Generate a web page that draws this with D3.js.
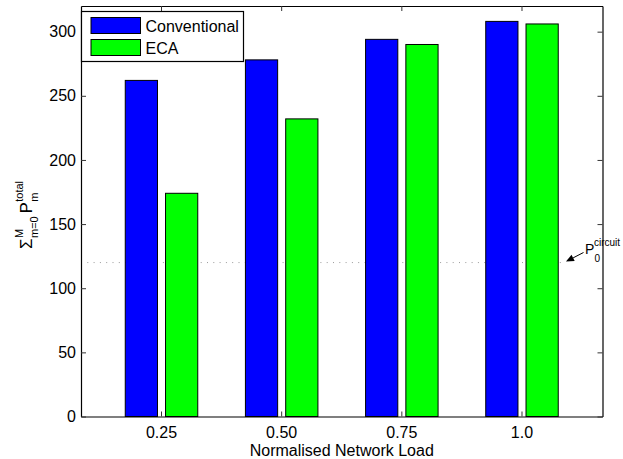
<!DOCTYPE html>
<html>
<head>
<meta charset="utf-8">
<script src="https://cdn.jsdelivr.net/npm/d3@7"></script>
<style>
  html, body { margin: 0; padding: 0; background: #fff; }
  svg { display: block; font-family: "Liberation Sans", Arial, Helvetica, sans-serif; }
</style>
</head>
<body>
<svg id="chart" width="623" height="459"></svg>
<script>
// Total power per network load, conventional vs ECA
const loads = ["0.25", "0.50", "0.75", "1.0"];
const seriesNames = ["Conventional", "ECA"];
const conventional = [262, 278, 294, 308];
const eca = [174, 232, 290, 306];
const seriesColors = ["#0000ff", "#00ff00"];
const yTicks = [0, 50, 100, 150, 200, 250, 300];
const circuitPower = 120;

const W = 623, H = 459;
const plot = { left: 81, right: 602.5, top: 6, bottom: 416.5 };

const svg = d3.select("#chart");

const x = d3.scaleBand()
  .domain(loads)
  .range([plot.left, plot.right])
  .paddingInner(0)
  .paddingOuter(0.17);

const step = x.step();
const xInner = d3.scaleBand()
  .domain(seriesNames)
  .range([step / 2 - 36.25, step / 2 + 36.25])
  .paddingInner(0.2);

const y = d3.scaleLinear().domain([0, 320]).range([plot.bottom, plot.top]);

const rows = loads.map((l, i) => ({ load: l, values: [conventional[i], eca[i]] }));

// reference level for the circuit-switched power
const yRef = y(circuitPower);
svg.append("line")
  .attr("x1", plot.left).attr("x2", 566)
  .attr("y1", yRef).attr("y2", yRef)
  .attr("stroke", "#9a9a9a")
  .attr("stroke-width", 1)
  .attr("stroke-dasharray", "1,5.3");

// grouped bars
const groups = svg.append("g").selectAll("g")
  .data(rows).join("g")
  .attr("transform", d => `translate(${x(d.load)},0)`);

groups.selectAll("rect")
  .data(d => d.values.map((v, j) => ({ name: seriesNames[j], value: v, color: seriesColors[j] })))
  .join("rect")
  .attr("x", d => xInner(d.name))
  .attr("width", xInner.bandwidth())
  .attr("y", d => y(d.value))
  .attr("height", d => y(0) - y(d.value))
  .attr("fill", d => d.color)
  .attr("stroke", "#000")
  .attr("stroke-width", 1);

// axes (ticks pointing inward, box on all four sides)
function styleAxis(g) {
  g.attr("font-family", null).attr("font-size", null);
  g.selectAll("path, line").attr("stroke", "#000").attr("stroke-width", 1.2);
  g.selectAll(".tick line").attr("stroke", "#333").attr("stroke-width", 1);
  g.selectAll("text").attr("fill", "#000").style("font-size", "16px");
}

svg.append("g")
  .attr("transform", `translate(0,${plot.bottom})`)
  .call(d3.axisBottom(x).tickSize(-5).tickSizeOuter(0).tickPadding(10.4))
  .call(styleAxis);

svg.append("g")
  .attr("transform", `translate(0,${plot.top})`)
  .call(d3.axisTop(x).tickSize(-5).tickSizeOuter(0).tickFormat(""))
  .call(styleAxis);

svg.append("g")
  .attr("transform", `translate(${plot.left},0)`)
  .call(d3.axisLeft(y).tickValues(yTicks).tickSize(-5).tickSizeOuter(0).tickPadding(5))
  .call(styleAxis);

svg.append("g")
  .attr("transform", `translate(${plot.right},0)`)
  .call(d3.axisRight(y).tickValues(yTicks).tickSize(-5).tickSizeOuter(0).tickFormat(""))
  .call(styleAxis);

// x axis title
svg.append("text")
  .attr("x", (plot.left + plot.right) / 2)
  .attr("y", 455.7)
  .attr("text-anchor", "middle")
  .style("font-size", "16px")
  .text("Normalised Network Load");

// y axis title: Σ_{m=0}^{M} P_m^{total}, built piece by piece
const yt = svg.append("g").attr("transform", "translate(31.7,0) rotate(-90)");
let u = -249;
function piece(str, size, shift) {
  const t = yt.append("text")
    .attr("x", u).attr("y", shift)
    .style("font-size", size + "px")
    .text(str);
  return t.node().getComputedTextLength();
}
let w = piece("\u03A3", 17, 0);
u += w + 0.5;
let w1 = piece("M", 11, -9);
let w2 = piece("m=0", 11, 6);
u += Math.max(w1, w2) + 3;
w = piece("P", 16.5, 0);
u += w + 0.5;
w1 = piece("total", 11, -9);
w2 = piece("m", 11, 6);

// legend
const leg = svg.append("g");
leg.append("rect")
  .attr("x", 81.5).attr("y", 11.5)
  .attr("width", 162).attr("height", 50)
  .attr("fill", "#fff").attr("stroke", "#000").attr("stroke-width", 1.2);
seriesNames.forEach((name, i) => {
  const cy = 25.5 + i * 22;
  leg.append("rect")
    .attr("x", 91).attr("y", cy - 8)
    .attr("width", 49.5).attr("height", 16)
    .attr("fill", seriesColors[i]).attr("stroke", "#000").attr("stroke-width", 1);
  leg.append("text")
    .attr("x", 145.5).attr("y", cy + 6)
    .style("font-size", "16px")
    .text(name);
});

// annotation arrow pointing at the reference level
const tip = [566, yRef - 1];
const tail = [583.5, 252.5];
const ang = Math.atan2(tip[1] - tail[1], tip[0] - tail[0]);
const hl = 8, hw = 3.5;
const base = [tip[0] - hl * Math.cos(ang), tip[1] - hl * Math.sin(ang)];
svg.append("line")
  .attr("x1", tail[0]).attr("y1", tail[1])
  .attr("x2", base[0]).attr("y2", base[1])
  .attr("stroke", "#000").attr("stroke-width", 1);
svg.append("path")
  .attr("d", `M${tip[0]},${tip[1]}L${base[0] - hw * Math.sin(ang)},${base[1] + hw * Math.cos(ang)}L${base[0] + hw * Math.sin(ang)},${base[1] - hw * Math.cos(ang)}Z`)
  .attr("fill", "#000");

svg.append("text").attr("x", 585).attr("y", 254).style("font-size", "14px").text("P");
svg.append("text").attr("x", 594).attr("y", 246).style("font-size", "10px").text("circuit");
svg.append("text").attr("x", 594.5).attr("y", 261.5).style("font-size", "10px").text("0");
</script>
</body>
</html>
